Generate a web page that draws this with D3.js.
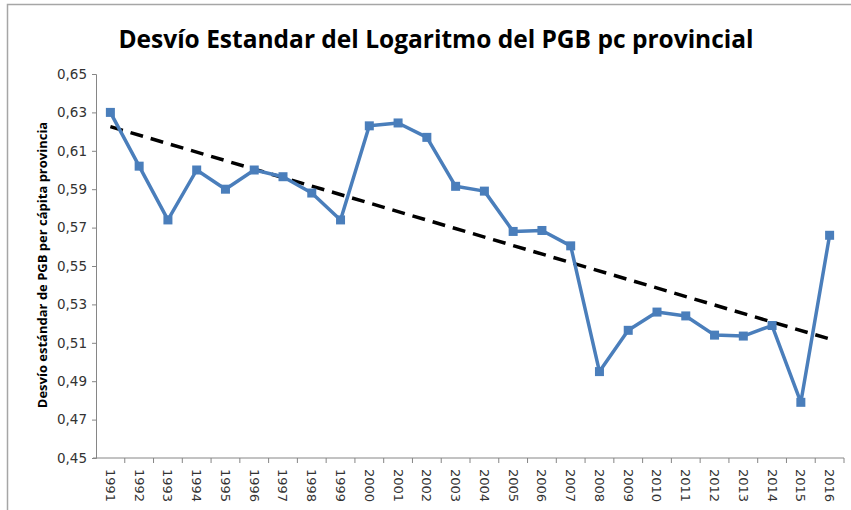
<!DOCTYPE html>
<html>
<head>
<meta charset="utf-8">
<script src="https://cdn.jsdelivr.net/npm/d3@7"></script>
<style>
  body { margin: 0; background: #fff; }
  svg { display: block; }
</style>
</head>
<body>
<script>
var years = ["1991","1992","1993","1994","1995","1996","1997","1998","1999","2000",
             "2001","2002","2003","2004","2005","2006","2007","2008","2009","2010",
             "2011","2012","2013","2014","2015","2016"];
var desvio = [0.630, 0.602, 0.574, 0.600, 0.590, 0.600, 0.5965, 0.588, 0.574, 0.623,
              0.6245, 0.617, 0.5915, 0.589, 0.568, 0.5685, 0.5605, 0.495, 0.5165, 0.526,
              0.524, 0.514, 0.5135, 0.519, 0.479, 0.566];
var yTicks = [0.45, 0.47, 0.49, 0.51, 0.53, 0.55, 0.57, 0.59, 0.61, 0.63, 0.65];

var width = 851, height = 510;
var margin = {left: 96, right: 7, top: 74, bottom: 52};

var svg = d3.select("body").append("svg")
    .attr("width", width)
    .attr("height", height);

// chart frame (only top/left visible in the crop)
svg.append("path")
    .attr("d", "M7.5," + height + " V4.5 H" + width)
    .style("fill", "none")
    .style("stroke", "#a6a6a6")
    .style("stroke-width", 1.5);

var x = d3.scaleBand()
    .domain(years)
    .range([margin.left, width - margin.right]);

var y = d3.scaleLinear()
    .domain([0.45, 0.65])
    .range([height - margin.bottom, margin.top]);

var fmt = function (d) { return d3.format(".2f")(d).replace(".", ","); };

// y axis
var yAxis = svg.append("g")
    .attr("transform", "translate(" + margin.left + ",0)")
    .call(d3.axisLeft(y).tickValues(yTicks).tickFormat(fmt).tickSize(4).tickPadding(5));
yAxis.selectAll("text")
    .style("font-family", "DejaVu Sans")
    .style("font-size", "13.5px")
    .style("fill", "#333");

// x axis with ticks on band boundaries
var xAxis = svg.append("g")
    .attr("transform", "translate(0," + (height - margin.bottom) + ")");
xAxis.append("line")
    .attr("x1", margin.left - 3)
    .attr("x2", width - margin.right)
    .style("stroke", "#868686");
xAxis.selectAll(".tk")
    .data(years)
    .enter()
    .append("line")
    .attr("x1", function (d) { return x(d) + x.bandwidth(); })
    .attr("x2", function (d) { return x(d) + x.bandwidth(); })
    .attr("y1", 0)
    .attr("y2", 5)
    .style("stroke", "#868686");
xAxis.selectAll(".lbl")
    .data(years)
    .enter()
    .append("text")
    .attr("transform", function (d) {
        return "translate(" + (x(d) + x.bandwidth() / 2) + ",11) rotate(90)";
    })
    .attr("dy", "0.35em")
    .style("font-family", "DejaVu Sans")
    .style("font-size", "13px")
    .style("fill", "#333")
    .text(function (d) { return d; });

svg.selectAll(".domain, .tick line").style("stroke", "#868686");

// trend line (least squares on the series)
var n = desvio.length;
var xs = d3.range(n);
var mx = d3.mean(xs), my = d3.mean(desvio);
var slope = d3.sum(xs, function (i) { return (i - mx) * (desvio[i] - my); }) /
            d3.sum(xs, function (i) { return (i - mx) * (i - mx); });
var icpt = my - slope * mx;
var cx = function (d) { return x(d) + x.bandwidth() / 2; };

svg.append("line")
    .attr("x1", cx(years[0]))
    .attr("y1", y(icpt))
    .attr("x2", cx(years[n - 1]))
    .attr("y2", y(icpt + slope * (n - 1)))
    .style("stroke", "#000")
    .style("stroke-width", 3.5)
    .style("stroke-dasharray", "13,8");

// series
var line = d3.line()
    .x(function (d, i) { return cx(years[i]); })
    .y(function (d) { return y(d); });

svg.append("path")
    .datum(desvio)
    .attr("d", line)
    .style("fill", "none")
    .style("stroke", "#4a7ebb")
    .style("stroke-width", 3.5)
    .style("stroke-linejoin", "round");

svg.selectAll(".pt")
    .data(desvio)
    .enter()
    .append("rect")
    .attr("x", function (d, i) { return cx(years[i]) - 4.5; })
    .attr("y", function (d) { return y(d) - 4.5; })
    .attr("width", 9)
    .attr("height", 9)
    .style("fill", "#4a7ebb");

// titles
svg.append("text")
    .attr("x", 436)
    .attr("y", 48)
    .attr("text-anchor", "middle")
    .style("font-family", "Open Sans")
    .style("font-weight", "bold")
    .style("font-size", "24.5px")
    .style("fill", "#000")
    .text("Desvío Estandar del Logaritmo del PGB pc provincial");

svg.append("text")
    .attr("transform", "translate(42,265) rotate(-90)")
    .attr("text-anchor", "middle")
    .attr("dy", "0.35em")
    .style("font-family", "Open Sans")
    .style("font-weight", "bold")
    .style("font-size", "13px")
    .style("fill", "#000")
    .text("Desvío estándar de PGB per cápita provincia");
</script>
</body>
</html>
